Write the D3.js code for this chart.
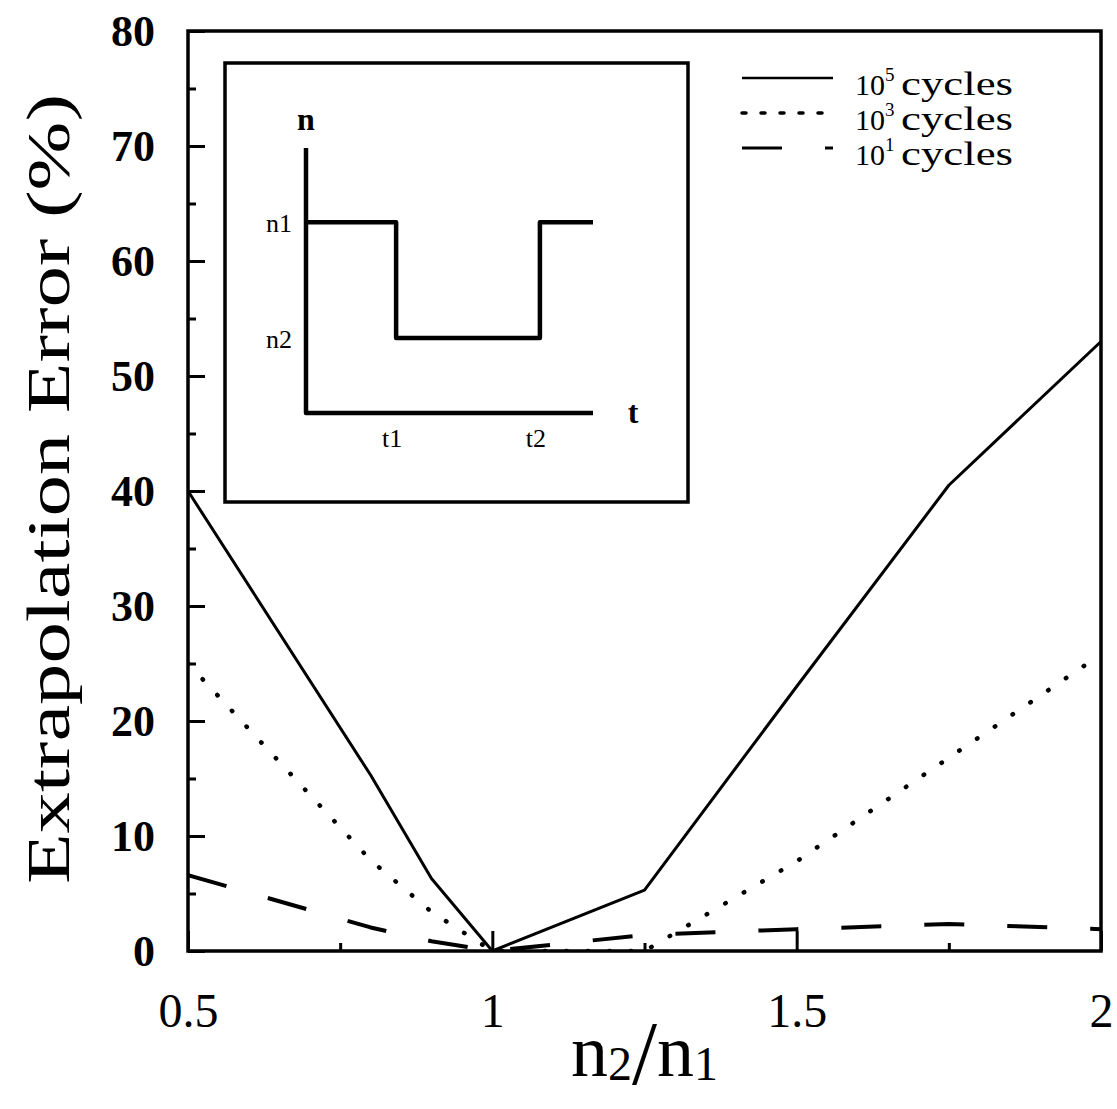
<!DOCTYPE html>
<html>
<head>
<meta charset="utf-8">
<script src="https://cdn.jsdelivr.net/npm/d3@7"></script>
<style>
  body { margin: 0; background: #fff; }
  svg text { font-family: "Liberation Serif", "Times New Roman", serif; fill: #000; }
</style>
</head>
<body>
<div id="chart"></div>
<script>
// values
const ratio   = [0.5, 0.8, 0.9, 1.0, 1.25, 1.5, 1.75, 2.0];
const err1e5  = [40, 15.3, 6.3, 0, 5.3, 23, 40.5, 53];
const err1e3  = [25, 7.9, 3.4, 0, 0, 7.8, 16.8, 25.8];
const err1e1  = [6.6, 2.05, 0.85, 0, 1.4, 1.9, 2.35, 1.9];
const exponents = ["5", "3", "1"];

const xTicks = [0.5, 1, 1.5, 2];
const xMinor = [0.75, 1.25, 1.75];
const yTicks = [0, 10, 20, 30, 40, 50, 60, 70, 80];
const yMinor = [5, 15, 25, 35, 45, 55, 65, 75];

// inset: load history n(t)
const stepT = [0, 0.314, 0.815, 1];
const stepN = [0.72, 0.283, 0.72, 0.72];
const levelLabels = ["n1", "n2"];
const timeLabels = ["t1", "t2"];

const width = 1117, height = 1109;
const margin = {top: 31, right: 16, bottom: 158, left: 188};

const svg = d3.select("#chart").append("svg")
    .attr("width", width)
    .attr("height", height);

const x = d3.scaleLinear().domain([0.5, 2]).range([margin.left, width - margin.right]);
const y = d3.scaleLinear().domain([0, 80]).range([height - margin.bottom, margin.top]);

// clip for the curves
svg.append("clipPath").attr("id", "plot-clip")
  .append("rect")
    .attr("x", x(0.5)).attr("y", y(80))
    .attr("width", x(2) - x(0.5)).attr("height", y(0) - y(80));

const series = [
    {values: err1e5, dash: null, w: 3, cap: "butt"},
    {values: err1e3, dash: "0.5,21", w: 4.5, cap: "round"},
    {values: err1e1, dash: "40,43", w: 4, cap: "butt"}
];

const line = d3.line()
    .x((d, i) => x(ratio[i]))
    .y(d => y(d));

svg.append("g")
    .attr("clip-path", "url(#plot-clip)")
  .selectAll("path")
  .data(series)
  .join("path")
    .attr("d", d => line(d.values))
    .attr("fill", "none")
    .attr("stroke", "#000")
    .attr("stroke-width", d => d.w)
    .attr("stroke-linecap", d => d.cap)
    .attr("stroke-linejoin", "round")
    .attr("stroke-dasharray", d => d.dash);

// axes, ticks pointing inward
const xAxis = svg.append("g")
    .attr("transform", `translate(0,${y(0)})`)
    .call(d3.axisBottom(x).tickValues(xTicks).tickSize(-20).tickPadding(42)
        .tickFormat(d3.format("")));
svg.append("g")
    .attr("transform", `translate(0,${y(0)})`)
    .call(d3.axisBottom(x).tickValues(xMinor).tickSize(-8).tickFormat(""));

const yAxis = svg.append("g")
    .attr("transform", `translate(${x(0.5)},0)`)
    .call(d3.axisLeft(y).tickValues(yTicks).tickSize(-17).tickPadding(33));
svg.append("g")
    .attr("transform", `translate(${x(0.5)},0)`)
    .call(d3.axisLeft(y).tickValues(yMinor).tickSize(-8).tickFormat(""));

svg.selectAll(".domain").remove();
svg.selectAll(".tick line").attr("stroke", "#000").attr("stroke-width", 3);
xAxis.selectAll(".tick text").attr("font-size", 48).attr("font-family", "Liberation Serif");
yAxis.selectAll(".tick text").attr("font-size", 44).attr("font-weight", "bold")
    .attr("font-family", "Liberation Serif");

// frame
svg.append("rect")
    .attr("x", x(0.5)).attr("y", y(80))
    .attr("width", x(2) - x(0.5)).attr("height", y(0) - y(80))
    .attr("fill", "none").attr("stroke", "#000").attr("stroke-width", 3.5);

// axis titles
svg.append("text")
    .attr("transform", `translate(69,${(y(0) + y(80)) / 2 - 2}) rotate(-90)`)
    .attr("text-anchor", "middle")
    .attr("font-size", 62)
    .attr("textLength", 790)
    .attr("lengthAdjust", "spacingAndGlyphs")
    .text("Extrapolation Error (%)");

const xt = svg.append("text")
    .attr("x", (x(0.5) + x(2)) / 2)
    .attr("y", 1076)
    .attr("text-anchor", "middle");
xt.append("tspan").attr("font-size", 74).text("n");
xt.append("tspan").attr("font-size", 48).attr("dy", 4).text("2");
xt.append("tspan").attr("font-size", 90).attr("dy", 4).text("/");
xt.append("tspan").attr("font-size", 74).attr("dy", -8).text("n");
xt.append("tspan").attr("font-size", 48).attr("dy", 4).text("1");

// legend
const legend = svg.append("g");
series.forEach((s, i) => {
    const ly = 78 + i * 35;
    legend.append("line")
        .attr("x1", 742).attr("x2", 833).attr("y1", ly).attr("y2", ly)
        .attr("stroke", "#000")
        .attr("stroke-width", i === 0 ? 2.5 : s.w - 1)
        .attr("stroke-linecap", s.cap)
        .attr("stroke-dasharray", i === 1 ? "4,15" : s.dash);
    const t = legend.append("text").attr("x", 855).attr("y", ly + 17).attr("font-size", 30);
    t.append("tspan").text("10");
    t.append("tspan").attr("font-size", 19).attr("dy", -14).text(exponents[i]);
    legend.append("text")
        .attr("x", 901).attr("y", ly + 17)
        .attr("font-size", 33)
        .attr("textLength", 112)
        .attr("lengthAdjust", "spacingAndGlyphs")
        .text("cycles");
});

// inset
const inset = {x0: 225, y0: 63, x1: 688, y1: 502};
svg.append("rect")
    .attr("x", inset.x0).attr("y", inset.y0)
    .attr("width", inset.x1 - inset.x0).attr("height", inset.y1 - inset.y0)
    .attr("fill", "#fff").attr("stroke", "#000").attr("stroke-width", 3.5);

const tx = d3.scaleLinear().domain([0, 1]).range([306, 593]);
const ny = d3.scaleLinear().domain([0, 1]).range([413, 148]);

const g = svg.append("g");
g.append("path")
    .attr("d", d3.line().x(d => tx(d[0])).y(d => ny(d[1]))([[0, 1], [0, 0], [1, 0]]))
    .attr("fill", "none").attr("stroke", "#000").attr("stroke-width", 4.5)
    .attr("stroke-linejoin", "round");
g.append("path")
    .attr("d", d3.line().curve(d3.curveStepAfter)
        .x((d, i) => tx(stepT[i])).y(d => ny(d))(stepN))
    .attr("fill", "none").attr("stroke", "#000").attr("stroke-width", 4.5)
    .attr("stroke-linejoin", "round");

g.append("text").attr("x", tx(0)).attr("y", 130).attr("text-anchor", "middle")
    .attr("font-size", 32).attr("font-weight", "bold").text("n");
g.append("text").attr("x", 633).attr("y", ny(0) + 10).attr("text-anchor", "middle")
    .attr("font-size", 32).attr("font-weight", "bold").text("t");
levelLabels.forEach((lab, i) => {
    g.append("text").attr("x", 292).attr("y", ny(stepN[i]) + 10)
        .attr("text-anchor", "end").attr("font-size", 26).text(lab);
});
timeLabels.forEach((lab, i) => {
    g.append("text").attr("x", tx(stepT[i + 1]) - 4).attr("y", 447)
        .attr("text-anchor", "middle").attr("font-size", 26).text(lab);
});
</script>
</body>
</html>
